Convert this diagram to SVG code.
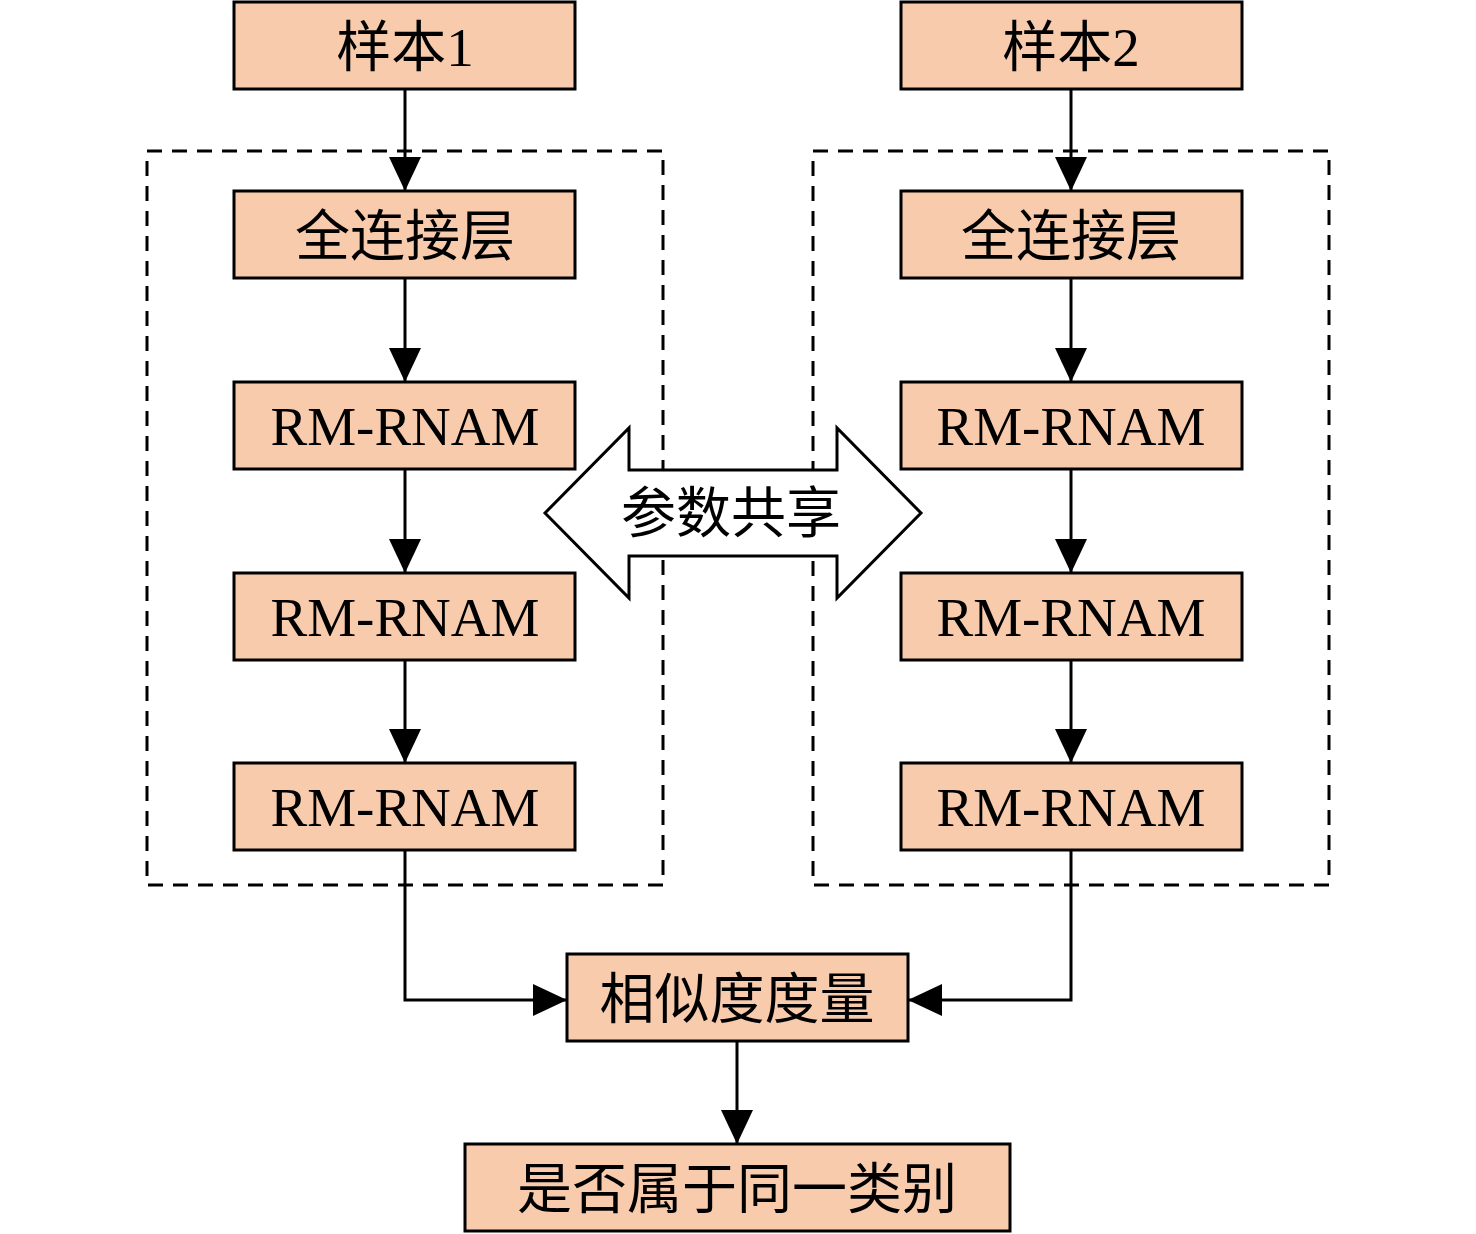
<svg xmlns="http://www.w3.org/2000/svg" width="1476" height="1234" viewBox="0 0 1476 1234">
<style>
.box{fill:#f7cbac;stroke:#000;stroke-width:3}
.dash{fill:none;stroke:#000;stroke-width:3;stroke-dasharray:15 10}
.t{font-family:"Liberation Serif","Noto Sans CJK SC",serif;font-size:55px;text-anchor:middle;fill:#000}
.c{fill:none;stroke:#000;stroke-width:3}
</style>
<defs>
<marker id="ah" markerUnits="userSpaceOnUse" markerWidth="36" markerHeight="32" refX="34" refY="16" orient="auto">
<path d="M0,0 L34,16 L0,32 Z" fill="#000"/>
</marker>
</defs>
<rect width="1476" height="1234" fill="#fff"/>
<g id="groups">
<rect class="dash" x="147" y="151" width="516" height="734"/>
<rect class="dash" x="813" y="151" width="516" height="734"/>
</g>
<g id="connectors">
<line class="c" x1="405" y1="89" x2="405" y2="191" marker-end="url(#ah)"/>
<line class="c" x1="405" y1="278" x2="405" y2="382" marker-end="url(#ah)"/>
<line class="c" x1="405" y1="469" x2="405" y2="573" marker-end="url(#ah)"/>
<line class="c" x1="405" y1="660" x2="405" y2="763" marker-end="url(#ah)"/>
<line class="c" x1="1071" y1="89" x2="1071" y2="191" marker-end="url(#ah)"/>
<line class="c" x1="1071" y1="278" x2="1071" y2="382" marker-end="url(#ah)"/>
<line class="c" x1="1071" y1="469" x2="1071" y2="573" marker-end="url(#ah)"/>
<line class="c" x1="1071" y1="660" x2="1071" y2="763" marker-end="url(#ah)"/>
<polyline class="c" points="405,850 405,1000 567,1000" marker-end="url(#ah)"/>
<polyline class="c" points="1071,850 1071,1000 908,1000" marker-end="url(#ah)"/>
<line class="c" x1="737" y1="1041" x2="737" y2="1144" marker-end="url(#ah)"/>
</g>
<g id="share">
<polygon points="545,513 629,428 629,470 837,470 837,428 921,513 837,598 837,556 629,556 629,598" fill="#fff" stroke="#000" stroke-width="3"/>
<text class="t" x="731" y="532">参数共享</text>
</g>
<g id="s1"><rect class="box" x="234" y="2" width="341" height="87"/><text class="t" x="405" y="66">样本1</text></g>
<g id="s2"><rect class="box" x="901" y="2" width="341" height="87"/><text class="t" x="1071" y="66">样本2</text></g>
<g id="fc1"><rect class="box" x="234" y="191" width="341" height="87"/><text class="t" x="405" y="255">全连接层</text></g>
<g id="fc2"><rect class="box" x="901" y="191" width="341" height="87"/><text class="t" x="1071" y="255">全连接层</text></g>
<g id="l1a"><rect class="box" x="234" y="382" width="341" height="87"/><text class="t" x="405" y="445">RM-RNAM</text></g>
<g id="l1b"><rect class="box" x="234" y="573" width="341" height="87"/><text class="t" x="405" y="636">RM-RNAM</text></g>
<g id="l1c"><rect class="box" x="234" y="763" width="341" height="87"/><text class="t" x="405" y="826">RM-RNAM</text></g>
<g id="l2a"><rect class="box" x="901" y="382" width="341" height="87"/><text class="t" x="1071" y="445">RM-RNAM</text></g>
<g id="l2b"><rect class="box" x="901" y="573" width="341" height="87"/><text class="t" x="1071" y="636">RM-RNAM</text></g>
<g id="l2c"><rect class="box" x="901" y="763" width="341" height="87"/><text class="t" x="1071" y="826">RM-RNAM</text></g>
<g id="sim"><rect class="box" x="567" y="954" width="341" height="87"/><text class="t" x="737" y="1018">相似度度量</text></g>
<g id="out"><rect class="box" x="465" y="1144" width="545" height="87"/><text class="t" x="737" y="1208">是否属于同一类别</text></g>
</svg>
